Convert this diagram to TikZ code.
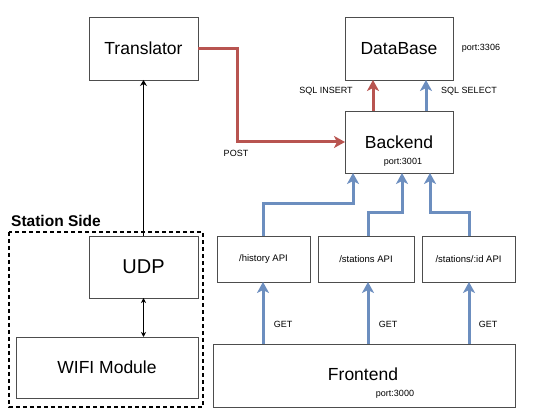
\documentclass[tikz,border=0pt]{standalone}
\usepackage{fontspec}
\setmainfont{Liberation Sans}
\usetikzlibrary{arrows.meta}
\definecolor{redl}{HTML}{B85450}
\definecolor{bluel}{HTML}{6C8EBF}
\definecolor{boxc}{HTML}{4D4D4D}
\tikzset{
  box/.style={draw=boxc, line width=0.9pt, inner sep=0pt, outer sep=0pt, font=\fontsize{17.5}{20}\selectfont},
  apibox/.style={box, font=\fontsize{9.5}{11}\selectfont},
  lbl/.style={inner sep=0pt, font=\fontsize{9}{10}\selectfont},
  redarr/.style={draw=redl, line width=3pt, -{Stealth[length=11pt,width=12pt,inset=3pt]}},
  bluearr/.style={draw=bluel, line width=3pt, -{Stealth[length=11pt,width=12pt,inset=3pt]}},
  blk/.style={draw=black, line width=0.8pt},
}
\begin{document}
\begin{tikzpicture}[x=1pt,y=-1pt]
\useasboundingbox (0,0) rectangle (542,411);
% station side frame
\draw[black, line width=1.3pt, dash pattern=on 4pt off 3pt] (9,232) rectangle (203,407);
\node[anchor=west, inner sep=0pt, font=\bfseries\fontsize{15.5}{18}\selectfont] (ss) at (11,221) {Station Side};
% boxes
\node[box, minimum width=109pt, minimum height=63pt] (tr) at (143.5,48.5) {Translator};
\node[box, minimum width=108pt, minimum height=63pt] (db) at (399,48.5) {DataBase};
\node[box, minimum width=108pt, minimum height=62pt] (be) at (399,142) {Backend};
\node[box, minimum width=109pt, minimum height=62pt, font=\fontsize{20}{22}\selectfont] (udp) at (143.5,267) {UDP};
\node[box, minimum width=182pt, minimum height=61pt] (wifi) at (107,367.5) {WIFI Module};
\node[apibox, minimum width=93pt, minimum height=46pt] (hist) at (263.5,259) {/history API};
\node[apibox, minimum width=96pt, minimum height=46pt] (sta) at (366,259) {/stations API};
\node[apibox, minimum width=93pt, minimum height=46pt] (sid) at (468.5,259) {/stations/:id API};
\node[box, minimum width=302pt, minimum height=63pt] (fe) at (364,375.5) {};
\node[inner sep=0pt, font=\fontsize{17.5}{20}\selectfont] (fet) at (363,374) {Frontend};
% labels
\node[lbl] (post) at (236,153) {POST};
\node[lbl] (sqli) at (326,91) {SQL INSERT};
\node[lbl] (sqls) at (469,91) {SQL SELECT};
\node[lbl] (p3306) at (481,48) {port:3306};
\node[lbl] (p3001) at (403,162) {port:3001};
\node[lbl] (p3000) at (395,394) {port:3000};
\node[lbl] (g1) at (283,324) {GET};
\node[lbl] (g2) at (388,324) {GET};
\node[lbl] (g3) at (488,324) {GET};
% red connectors
\coordinate (r1) at (237,48.5);
\coordinate (r2) at (237,142);
\draw[redarr, line join=miter] (tr.east) -- (r1) -- (r2) -- (be.west);
\draw[redarr] (373,111) -- (373,80);
% blue db
\draw[bluearr] (426,111) -- (426,80);
% api to backend
\coordinate (h1) at (263,204);
\coordinate (h2) at (353,204);
\coordinate (s1) at (368,213);
\coordinate (s2) at (402,213);
\coordinate (i1) at (469,213);
\coordinate (i2) at (430,213);
\draw[bluearr] (263,236) -- (h1) -- (h2) -- (353,173);
\draw[bluearr] (368,236) -- (s1) -- (s2) -- (402,173);
\draw[bluearr] (469,236) -- (i1) -- (i2) -- (430,173);
% GET
\draw[bluearr] (263,344) -- (263,282);
\draw[bluearr] (368,344) -- (368,282);
\draw[bluearr] (469,344) -- (469,282);
% black
\draw[blk, -{Stealth[length=6pt,width=7pt,inset=2pt]}] (udp.north) -- (tr.south);
\draw[blk, {Stealth[length=5pt,width=5pt,inset=1.5pt]}-{Stealth[length=5pt,width=5pt,inset=1.5pt]}] (udp.south) -- (wifi.north -| udp.south);
\end{tikzpicture}
\end{document}
